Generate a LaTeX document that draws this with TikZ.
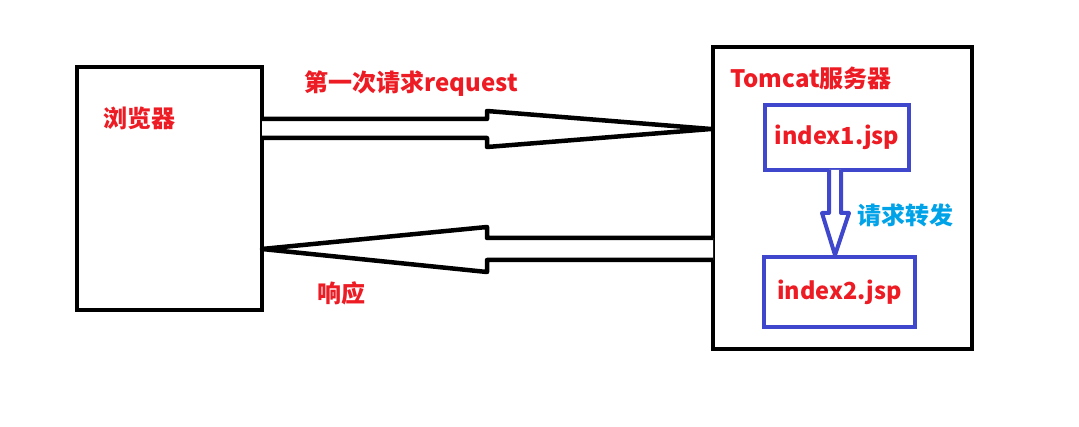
\documentclass[tikz,border=0pt]{standalone}
\usepackage{fontspec}
\usepackage{tikz}
\usetikzlibrary{positioning}
\setmainfont{Noto Sans CJK SC}
\definecolor{paintred}{HTML}{ED1C24}
\definecolor{paintblue}{HTML}{3F48CC}
\definecolor{paintcyan}{HTML}{00A2E8}
\tikzset{
	box/.style={draw=black,line width=4pt,inner sep=0pt},
	page/.style={draw=paintblue,line width=4pt,inner sep=0pt,text=paintred,font=\fontsize{23.5}{26}\selectfont\bfseries},
	lbl/.style={text=paintred,inner sep=0pt,font=\fontsize{24}{27}\selectfont\bfseries},
	hollow/.style={draw=black,line width=4.5pt,line join=round,fill=white}
}

\begin{document}
\begin{tikzpicture}[x=1pt,y=-1pt]
	\useasboundingbox (0,0) rectangle (1079,427);
	\node [box,minimum width=185pt,minimum height=243pt] (browser) at (169.5,188.5) {};
	\node [box,minimum width=259pt,minimum height=302pt] (tomcat) at (842.5,198) {};
	\node [page,minimum width=144pt,minimum height=65pt] (jsp1) at (837,137.5) {index1.jsp};
	\node [page,minimum width=151pt,minimum height=70pt] (jsp2) at (839.5,292) {index2.jsp};

	% request arrow
	\draw [hollow] (262,119) -- (487,119) -- (487,111) -- (711,129) -- (487,147) -- (487,138) -- (262,138);
	% response arrow
	\draw [hollow] (713,238) -- (487,238) -- (487,227) -- (262,249) -- (487,272) -- (487,260) -- (713,260);
	% forward arrow
	\draw [hollow,draw=paintblue,line width=4pt] (829,170) -- (829,213) -- (822,213) -- (835,255) -- (849,213) -- (841,213) -- (841,170);

	\node [lbl] (browserlbl) at (139,118) {浏览器};
	\node [lbl] (reqlbl) at (411,84) {第一次请求request};
	\node [lbl] (resplbl) at (341,293) {响应};
	\node [lbl] (tomcatlbl) at (811,78) {Tomcat服务器};
	\node [lbl,text=paintcyan] (fwdlbl) at (905,215) {请求转发};
\end{tikzpicture}
\end{document}
